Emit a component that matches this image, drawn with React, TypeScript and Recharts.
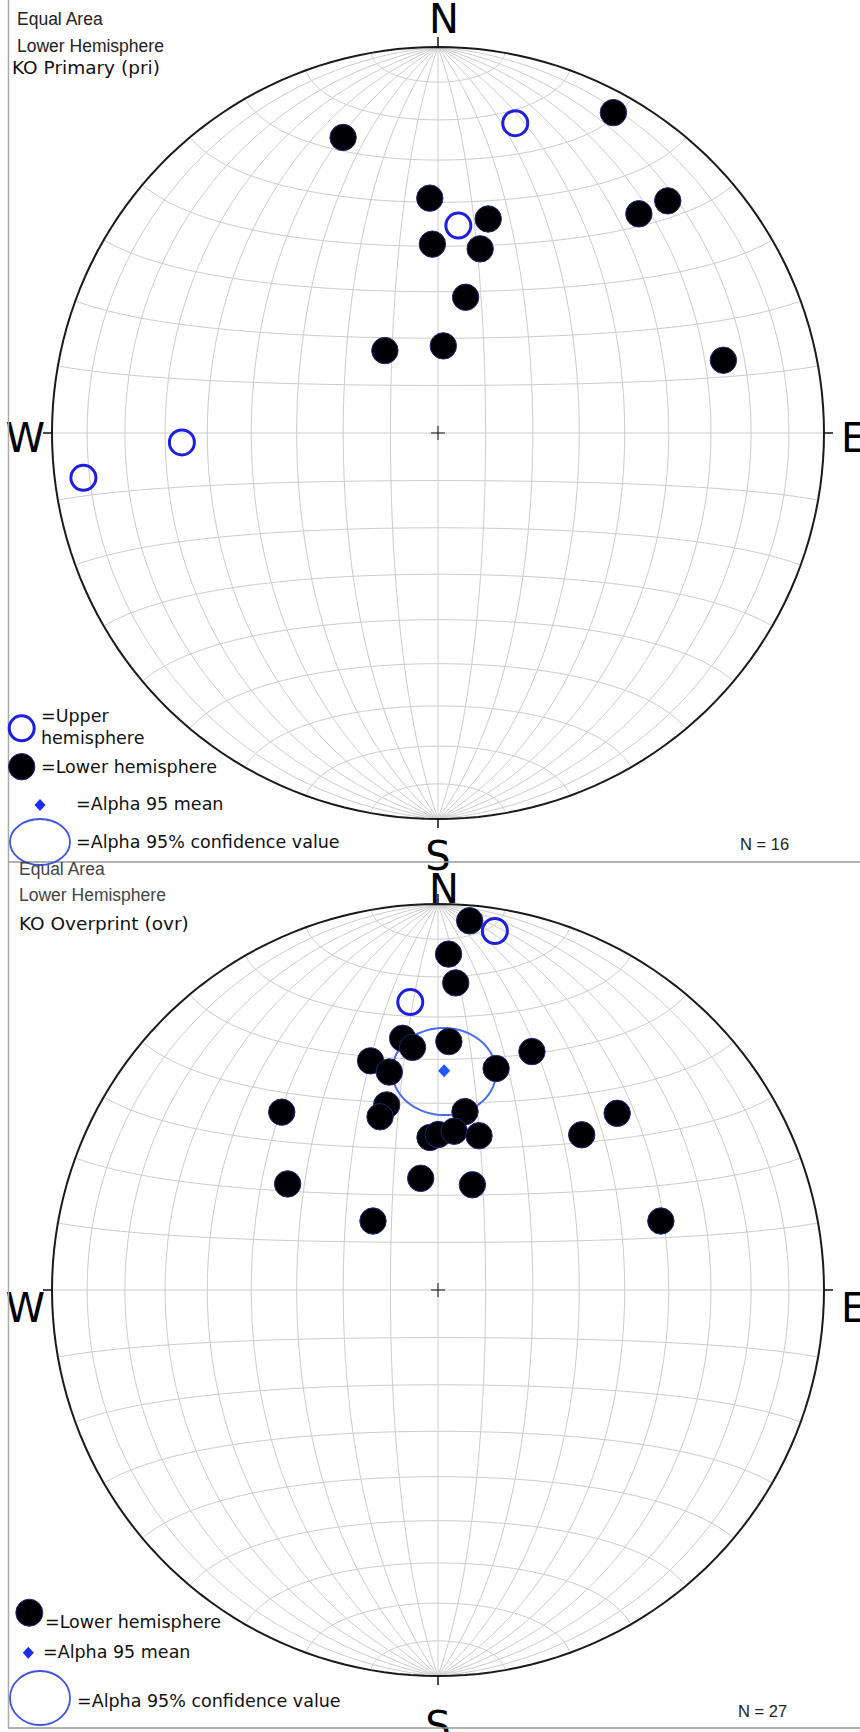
import React from "react";
import { ScatterChart, Scatter, XAxis, YAxis } from "recharts";

// KO Primary (pri): declination / inclination, negative inc = upper hemisphere
const priDec = [342.2, 14.0, 28.7, 358.0, 5.6, 13.2, 358.3, 12.9, 42.5, 44.7, 11.5, 327.2, 3.5, 75.7, 267.9, 262.8];
const priInc = [20.7, -18.4, 6.0, 39.0, -45.1, 42.5, 49.5, 49.5, 24.0, 16.5, 60.6, 69.3, 71.6, 24.7, -34.0, -8.2];

// KO Overprint (ovr)
const ovrDec = [
  4.9, 9.0, 1.8, 3.3, 354.5, 352.0, 354.0, 2.5, 21.5, 343.6, 347.4, 14.7, 318.7, 344.5,
  341.5, 8.6, 45.4, 357.0, 0.1, 5.8, 14.9, 42.8, 305.2, 351.2, 18.1, 316.7, 72.8,
];
const ovrInc = [
  4.5, -6.5, 14.0, 21.4, -26.0, 34.5, 36.9, 35.8, 34.0, 38.1, 41.7, 40.4, 38.6, 48.8,
  50.9, 51.4, 35.1, 57.5, 56.9, 56.0, 56.0, 44.4, 50.6, 66.1, 66.6, 70.0, 39.4,
];
const ovrMeanDec = 1.6;
const ovrMeanInc = 42.6;
const ovrA95 = 10;

const compassLabels = ["N", "E", "S", "W"];
const compassDec = [0, 90, 180, 270];

const rad = Math.PI / 180;

// Schmidt (equal-area) projection of a unit vector (east, north, down)
function project(e: number, n: number, d: number) {
  const s = 1 / Math.sqrt(1 + Math.abs(d));
  return { x: e * s, y: n * s };
}

function dirXY(dec: number, inc: number) {
  const a = Math.abs(inc) * rad;
  const b = dec * rad;
  return project(Math.cos(a) * Math.sin(b), Math.cos(a) * Math.cos(b), Math.sin(a));
}

function netLines() {
  const lines: { x: number; y: number }[][] = [];
  // great circles through N and S
  for (let k = 1; k <= 9; k++) {
    const phi = k * 10 * rad;
    const sides = k === 9 ? [1] : [1, -1];
    for (const side of sides) {
      const pts = [];
      for (let t = -90; t <= 90; t += 2) {
        const tr = t * rad;
        pts.push(project(side * Math.cos(tr) * Math.cos(phi), Math.sin(tr), Math.cos(tr) * Math.sin(phi)));
      }
      lines.push(pts);
    }
  }
  // small circles about the N-S axis
  for (let k = 1; k <= 17; k++) {
    const beta = k * 10 * rad;
    const pts = [];
    for (let p = 0; p <= 180; p += 2) {
      const pr = p * rad;
      pts.push(project(Math.sin(beta) * Math.cos(pr), Math.cos(beta), Math.sin(beta) * Math.sin(pr)));
    }
    lines.push(pts);
  }
  return lines;
}

function primitive() {
  const pts = [];
  for (let a = 0; a <= 360; a += 2) pts.push({ x: Math.cos(a * rad), y: Math.sin(a * rad) });
  return pts;
}

function cone(dec: number, inc: number, alpha: number) {
  const D = dec * rad, I = inc * rad, al = alpha * rad;
  const m = [Math.cos(I) * Math.sin(D), Math.cos(I) * Math.cos(D), Math.sin(I)];
  const u = [Math.cos(D), -Math.sin(D), 0];
  const w = [Math.sin(I) * Math.sin(D), Math.sin(I) * Math.cos(D), -Math.cos(I)];
  const pts = [];
  for (let p = 0; p <= 360; p += 4) {
    const c = Math.cos(p * rad), s = Math.sin(p * rad);
    const v = [0, 1, 2].map((i) => m[i] * Math.cos(al) + (u[i] * c + w[i] * s) * Math.sin(al));
    pts.push(project(v[0], v[1], v[2]));
  }
  return pts;
}

const GRID = netLines();
const RIM = primitive();
const CENTER = [{ x: 0, y: 0 }];
const COMPASS = compassLabels.map((k, i) => ({ ...dirXY(compassDec[i], 0), k }));

const none = () => <g />;

const filledDot = (p: any) => (
  <circle cx={p.cx} cy={p.cy} r={13.2} fill="#000004" stroke="#25257a" strokeWidth={1} />
);
const openDot = (p: any) => (
  <circle cx={p.cx} cy={p.cy} r={12.5} fill="none" stroke="#1e1ee0" strokeWidth={3} />
);
const diamond = (p: any) => (
  <polygon
    points={`${p.cx},${p.cy - 6.5} ${p.cx + 6},${p.cy} ${p.cx},${p.cy + 6.5} ${p.cx - 6},${p.cy}`}
    fill="#2257ff"
  />
);
const cross = (p: any) => (
  <g stroke="#111" strokeWidth={1}>
    <line x1={p.cx - 7} y1={p.cy} x2={p.cx + 7} y2={p.cy} />
    <line x1={p.cx} y1={p.cy - 7} x2={p.cx} y2={p.cy + 7} />
  </g>
);

const compassShape = (dy: number) => (p: any) => {
  const { cx, cy } = p;
  const k = p.payload.k;
  const font = { fontFamily: "DejaVu Sans", fontSize: 40, fill: "#000" };
  if (k === "N")
    return (
      <g>
        <line x1={cx} y1={cy - 10} x2={cx} y2={cy} stroke="#111" strokeWidth={1.5} />
        <text x={cx + 6} y={cy - 14 + dy} textAnchor="middle" {...font}>N</text>
      </g>
    );
  if (k === "E")
    return (
      <g>
        <line x1={cx} y1={cy} x2={cx + 9} y2={cy} stroke="#111" strokeWidth={1.5} />
        <text x={cx + 17} y={cy + 19 + dy} textAnchor="start" {...font}>E</text>
      </g>
    );
  if (k === "W")
    return (
      <g>
        <line x1={cx - 9} y1={cy} x2={cx} y2={cy} stroke="#111" strokeWidth={1.5} />
        <text x={cx - 7} y={cy + 19 + dy} textAnchor="end" {...font}>W</text>
      </g>
    );
  return (
    <g>
      <line x1={cx} y1={cy} x2={cx} y2={cy + 9} stroke="#111" strokeWidth={1.5} />
      <text x={cx} y={cy + 51 + dy} textAnchor="middle" {...font}>S</text>
    </g>
  );
};

function toPoints(dec: number[], inc: number[], upper: boolean) {
  return dec
    .map((d, i) => ({ ...dirXY(d, inc[i]), up: inc[i] < 0 }))
    .filter((p) => p.up === upper);
}

function Stereonet({
  height,
  margin,
  dec,
  inc,
  labelDy,
  mean,
}: {
  height: number;
  margin: { top: number; right: number; bottom: number; left: number };
  dec: number[];
  inc: number[];
  labelDy: number;
  mean?: { dec: number; inc: number; a95: number };
}) {
  return (
    <ScatterChart width={860} height={height} margin={margin}>
      <XAxis type="number" dataKey="x" domain={[-1, 1]} hide />
      <YAxis type="number" dataKey="y" domain={[-1, 1]} hide />
      {GRID.map((pts, i) => (
        <Scatter
          key={"g" + i}
          data={pts}
          line={{ stroke: "#cccccc", strokeWidth: 1 }}
          lineType="joint"
          shape={none}
          isAnimationActive={false}
        />
      ))}
      <Scatter data={RIM} line={{ stroke: "#1a1a1a", strokeWidth: 2 }} lineType="joint" shape={none} isAnimationActive={false} />
      <Scatter data={CENTER} shape={cross} isAnimationActive={false} />
      <Scatter data={COMPASS} shape={compassShape(labelDy)} isAnimationActive={false} />
      {mean && (
        <Scatter
          data={cone(mean.dec, mean.inc, mean.a95)}
          line={{ stroke: "#4a6cf0", strokeWidth: 2 }}
          lineType="joint"
          shape={none}
          isAnimationActive={false}
        />
      )}
      <Scatter data={toPoints(dec, inc, false)} shape={filledDot} isAnimationActive={false} />
      <Scatter data={toPoints(dec, inc, true)} shape={openDot} isAnimationActive={false} />
      {mean && <Scatter data={[dirXY(mean.dec, mean.inc)]} shape={diamond} isAnimationActive={false} />}
    </ScatterChart>
  );
}

const sans = { fontFamily: "Liberation Sans, Arial, sans-serif" };
const dvs = { fontFamily: "DejaVu Sans, sans-serif" };

function legendDiamond(x: number, y: number) {
  return <polygon points={`${x},${y - 6} ${x + 5.5},${y} ${x},${y + 6} ${x - 5.5},${y}`} fill="#1a2cf0" />;
}

export default function App() {
  return (
    <div style={{ position: "absolute", left: 0, top: 0, width: 860, height: 1732, overflow: "hidden", background: "#fff" }}>
      <div style={{ position: "absolute", left: 0, top: 0 }}>
        <Stereonet
          height={872}
          margin={{ top: 47, right: 36, bottom: 53, left: 52 }}
          dec={priDec}
          inc={priInc}
          labelDy={0}
        />
      </div>
      <div style={{ position: "absolute", left: 0, top: 862 }}>
        <Stereonet
          height={870}
          margin={{ top: 42, right: 36, bottom: 56, left: 52 }}
          dec={ovrDec}
          inc={ovrInc}
          labelDy={13}
          mean={{ dec: ovrMeanDec, inc: ovrMeanInc, a95: ovrA95 }}
        />
      </div>
      <svg width={860} height={1732} style={{ position: "absolute", left: 0, top: 0, pointerEvents: "none" }}>
        {/* panel frames */}
        <line x1={8.5} y1={0} x2={8.5} y2={1728} stroke="#aaa" strokeWidth={1.5} />
        <line x1={8} y1={862} x2={860} y2={862} stroke="#999" strokeWidth={1.5} />
        <line x1={8} y1={1728} x2={860} y2={1728} stroke="#999" strokeWidth={1.5} />

        {/* top panel header */}
        <text x={17} y={25} fontSize={17.5} fill="#222" {...sans}>Equal Area</text>
        <text x={17} y={52} fontSize={17.5} fill="#222" {...sans}>Lower Hemisphere</text>
        <text x={12} y={74} fontSize={18.5} fill="#111" {...dvs}>KO Primary (pri)</text>

        {/* top legend */}
        <circle cx={21.7} cy={728.3} r={12.5} fill="none" stroke="#1e1ee0" strokeWidth={3} />
        <text x={41} y={722} fontSize={17.5} fill="#111" {...dvs}>=Upper</text>
        <text x={41} y={744} fontSize={17.5} fill="#111" {...dvs}>hemisphere</text>
        <circle cx={21.7} cy={766.7} r={13.2} fill="#000004" stroke="#25257a" strokeWidth={1} />
        <text x={41} y={773} fontSize={17.5} fill="#111" {...dvs}>=Lower hemisphere</text>
        {legendDiamond(40, 805)}
        <text x={76} y={810} fontSize={17.5} fill="#111" {...dvs}>=Alpha 95 mean</text>
        <ellipse cx={40} cy={842} rx={30} ry={23} fill="none" stroke="#3c55e0" strokeWidth={1.8} />
        <text x={76} y={848} fontSize={17.5} fill="#111" {...dvs}>=Alpha 95% confidence value</text>
        <text x={740} y={850} fontSize={16.5} fill="#222" {...sans}>N = 16</text>

        {/* bottom panel header */}
        <text x={19} y={875} fontSize={17.5} fill="#444" {...sans}>Equal Area</text>
        <text x={19} y={901} fontSize={17.5} fill="#444" {...sans}>Lower Hemisphere</text>
        <text x={19} y={930} fontSize={18.5} fill="#111" {...dvs}>KO Overprint (ovr)</text>

        {/* bottom legend */}
        <circle cx={29.3} cy={1612.7} r={13.5} fill="#000004" stroke="#25257a" strokeWidth={1} />
        <text x={45} y={1628} fontSize={17.5} fill="#111" {...dvs}>=Lower hemisphere</text>
        {legendDiamond(28.3, 1652.7)}
        <text x={43} y={1658} fontSize={17.5} fill="#111" {...dvs}>=Alpha 95 mean</text>
        <ellipse cx={40} cy={1698} rx={30} ry={27} fill="none" stroke="#3c55e0" strokeWidth={1.8} />
        <text x={77} y={1707} fontSize={17.5} fill="#111" {...dvs}>=Alpha 95% confidence value</text>
        <text x={738} y={1717} fontSize={16.5} fill="#222" {...sans}>N = 27</text>
      </svg>
    </div>
  );
}
